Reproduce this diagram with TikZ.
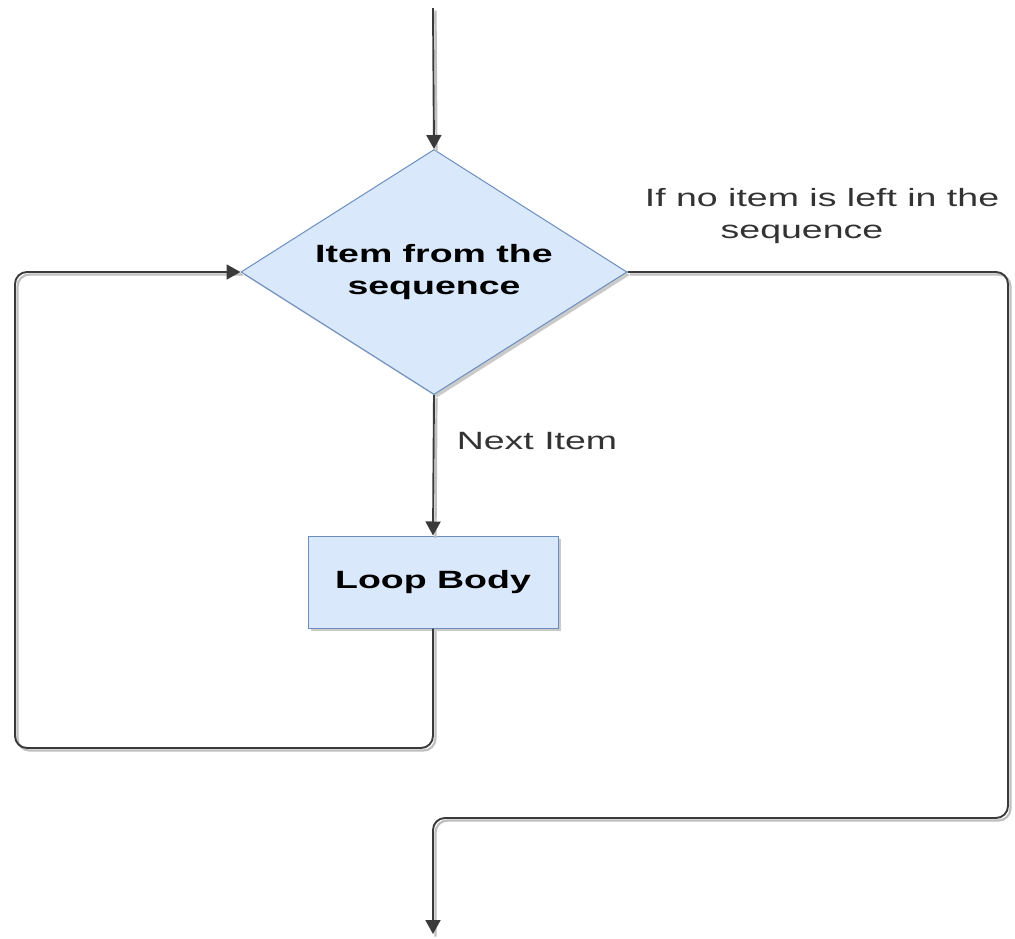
\documentclass[tikz,border=0pt]{standalone}
\usepackage{fontspec}
\setmainfont{Liberation Sans}[FakeStretch=1.5]
\usetikzlibrary{shapes.geometric,arrows.meta,shadows}
\definecolor{nodefill}{HTML}{DAE8FC}
\definecolor{nodedraw}{HTML}{6C8EBF}
\definecolor{linecol}{HTML}{3A3A3A}
\definecolor{labelcol}{HTML}{333333}
\tikzset{
  basefont/.style={font=\fontsize{25}{32}\selectfont},
  boldfont/.style={font=\fontsize{25}{32}\selectfont\bfseries},
  flow/.style={draw=linecol, line width=1.9pt, rounded corners=12pt,
    preaction={draw=black!25, line width=2.2pt, -, transform canvas={shift={(2.5pt,-2.5pt)}}}},
  flowarrow/.style={flow, -{Triangle[length=14pt,width=15pt]}},
  decision/.style={diamond, draw=nodedraw, line width=1pt, fill=nodefill,
    minimum width=386pt, minimum height=245pt, aspect=1.575, inner sep=0pt,
    align=center, boldfont,
    drop shadow={shadow xshift=3pt, shadow yshift=-3pt, fill=black!35, opacity=0.6}},
  process/.style={rectangle, draw=nodedraw, line width=1pt, fill=nodefill,
    minimum width=250pt, minimum height=92pt, inner sep=0pt, boldfont,
    drop shadow={shadow xshift=3pt, shadow yshift=-3pt, fill=black!35, opacity=0.6}},
  lbl/.style={text=labelcol, align=center, inner sep=0pt, basefont}
}
\begin{document}
\begin{tikzpicture}[x=1pt, y=-1pt]
\useasboundingbox (0,0) rectangle (1015,938);
\coordinate (start) at (433,8);
\node[decision] (dec) at (434,272) {Item from the\\sequence};
\node[process] (body) at (433,582) {Loop Body};
\coordinate (end) at (433,934);
\draw[flowarrow] (start) -- (dec.north);
\draw[flowarrow] (dec.south) -- (body.north);
\draw[flowarrow] (body.south) -- (433,748) -- (15,748) |- (dec.west);
\draw[flowarrow] (dec.east) -- (1008,272) -- (1008,818) -- (433,818) -- (end);
\node[lbl] (next) at (537,441) {Next Item};
\node[lbl] (nolabel) at (822,216) {If no item is left in the\\sequence\hspace*{40pt}};
\end{tikzpicture}
\end{document}
